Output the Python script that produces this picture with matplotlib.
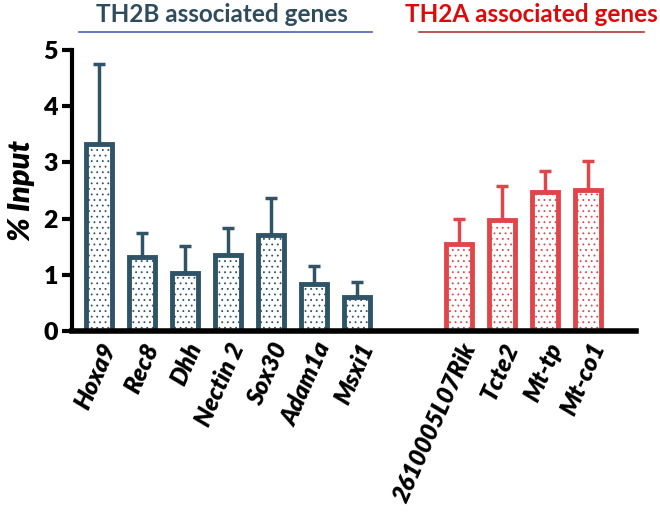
import matplotlib.pyplot as plt
import numpy as np

plt.rcParams['font.family'] = ['Lato', 'DejaVu Sans']
plt.rcParams['hatch.linewidth'] = 0.6

# TH2B associated genes
b_genes = ["Hoxa9", "Rec8", "Dhh", "Nectin 2", "Sox30", "Adam1a", "Msxi1"]
b_vals = [3.33, 1.32, 1.03, 1.35, 1.70, 0.83, 0.60]
b_err = [1.42, 0.43, 0.48, 0.48, 0.67, 0.33, 0.28]

# TH2A associated genes
a_genes = ["2610005L07Rik", "Tcte2", "Mt-tp", "Mt-co1"]
a_vals = [1.55, 1.97, 2.48, 2.50]
a_err = [0.44, 0.61, 0.37, 0.52]

blue = "#2f5468"
red = "#e0454a"

fig = plt.figure(figsize=(6.6, 5.17), dpi=100)
ax = fig.add_axes([72/660, 186/517, (636-72)/660, (331-50)/517])

xb = np.arange(len(b_genes))
xa = 8.37 + np.arange(len(a_genes))

for x, v, e, c in [(xb, b_vals, b_err, blue), (xa, a_vals, a_err, red)]:
    ax.errorbar(x, v, yerr=[np.zeros(len(v)), e], fmt="none", ecolor=c,
                elinewidth=2.5, capsize=4, capthick=2.5, zorder=1)
    ax.bar(x, v, width=0.62, facecolor="white", edgecolor=c, linewidth=3.5,
           hatch="...", zorder=2)

ax.set_xlim(-0.63, 12.49)
ax.set_ylim(0, 5)
ax.set_yticks([0, 1, 2, 3, 4, 5])
ax.spines['top'].set_visible(False)
ax.spines['right'].set_visible(False)
ax.spines['left'].set_linewidth(3)
ax.spines['bottom'].set_linewidth(4)
ax.spines['bottom'].set_zorder(5)
ax.tick_params(axis='y', direction='out', length=7, width=3, labelsize=18, pad=3)
for lab in ax.get_yticklabels():
    lab.set_fontweight('heavy')
ax.tick_params(axis='x', length=0, pad=6)
ax.set_xticks(list(xb) + list(xa))
ax.set_xticklabels(b_genes + a_genes, rotation=66, ha='right',
                   rotation_mode='anchor', fontsize=17.5, fontweight='heavy',
                   fontstyle='italic')
ax.set_ylabel("% Input", fontsize=22, fontweight='heavy', fontstyle='italic',
              labelpad=6)

fig.text(222/660, 1 - 14/517, "TH2B associated genes", color="#2f4c5e",
         fontsize=17.5, fontweight='bold', ha='center', va='center')
fig.text(531/660, 1 - 14/517, "TH2A associated genes", color="#dd0a0a",
         fontsize=17.5, fontweight='bold', ha='center', va='center')
fig.add_artist(plt.Line2D([79/660, 372/660], [1 - 32/517] * 2, color="#5060b8",
                          linewidth=1.2))
fig.add_artist(plt.Line2D([419/660, 644/660], [1 - 32/517] * 2, color="#b03838",
                          linewidth=1.2))

fig.savefig("out.png", dpi=100)
